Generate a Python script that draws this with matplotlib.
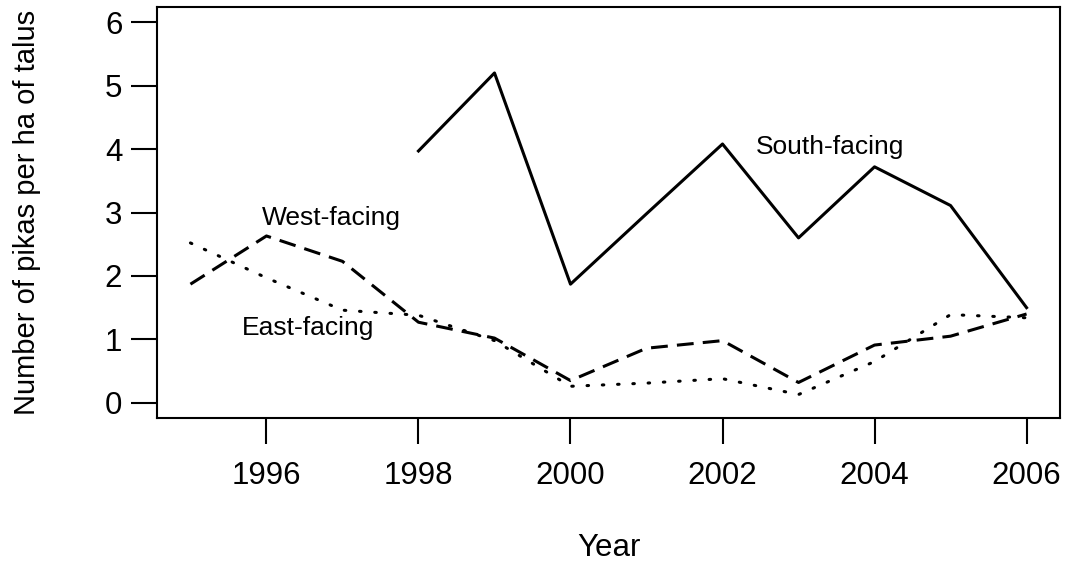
import matplotlib.pyplot as plt

plt.rcParams['font.family'] = ['Liberation Sans', 'DejaVu Sans']

years = [1995, 1996, 1997, 1998, 1999, 2000, 2001, 2002, 2003, 2004, 2005, 2006]
south_years = [1998, 1999, 2000, 2001, 2002, 2003, 2004, 2005, 2006]
south = [3.97, 5.20, 1.87, 2.98, 4.08, 2.60, 3.72, 3.11, 1.50]
west = [1.87, 2.63, 2.23, 1.27, 1.02, 0.35, 0.86, 0.98, 0.32, 0.91, 1.05, 1.40]
east = [2.52, 1.97, 1.46, 1.38, 0.98, 0.26, 0.31, 0.38, 0.13, 0.65, 1.39, 1.34]
xticks = [1996, 1998, 2000, 2002, 2004, 2006]
yticks = [0, 1, 2, 3, 4, 5, 6]

fig = plt.figure(figsize=(10.66, 5.65), dpi=100)
ax = fig.add_axes([157/1066, 1 - 418/565, (1060-157)/1066, (418-7)/565])

ax.plot(south_years, south, color='black', lw=2.2, ls='-')
ax.plot(years, west, color='black', lw=2.2, dashes=(5.5, 3))
ax.plot(years, east, color='black', lw=2.2, dashes=(0.5, 4.5), dash_capstyle='round')

ax.text(1996.85, 2.92, "West-facing", fontsize=19, ha='center', va='center')
ax.text(1996.55, 1.18, "East-facing", fontsize=19, ha='center', va='center')
ax.text(2003.42, 4.04, "South-facing", fontsize=19, ha='center', va='center')

ax.set_xlim(1994.56, 2006.44)
ax.set_ylim(-0.24, 6.24)
ax.set_xticks(xticks)
ax.set_yticks(yticks)
ax.tick_params(axis='both', length=19, width=1.5, labelsize=22.5)
ax.tick_params(axis='y', pad=6)
ax.tick_params(axis='x', pad=12)
for s in ax.spines.values():
    s.set_linewidth(1.5)

ax.set_xlabel("Year", fontsize=22.5, labelpad=30)
ax.set_ylabel("Number of pikas per ha of talus", fontsize=21, labelpad=46)

plt.savefig("out.png", dpi=100)
